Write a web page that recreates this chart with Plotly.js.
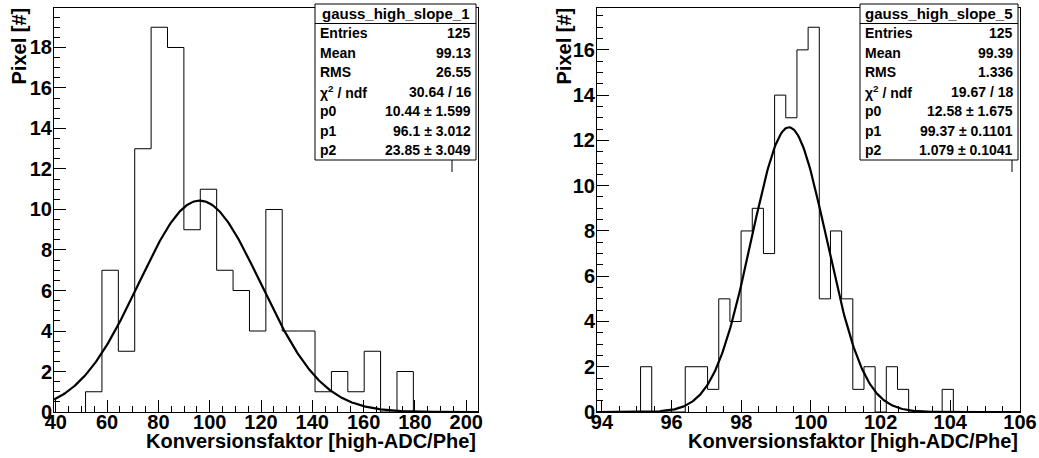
<!DOCTYPE html>
<html><head><meta charset="utf-8">
<script src="https://cdn.plot.ly/plotly-3.0.1.min.js"></script>
<style>html,body{margin:0;padding:0;background:#fff}#chart{width:1039px;height:458px}</style>
</head><body><div id="chart"></div>
<script>
// ---- Left histogram: gauss_high_slope_1 ----
const title1 = "gauss_high_slope_1";
const binStart1 = 51.6;
const binWidth1 = 6.39;
const counts1 = [1, 7, 3, 13, 19, 18, 9, 11, 7, 6, 4, 10, 4, 4, 1, 2, 1, 3, 0, 2];
const fitParams1 = [10.44, 96.1, 23.85];           // p0 (const), p1 (mean), p2 (sigma)
const statLabels1 = ["Entries", "Mean", "RMS", "χ<sup>2</sup> / ndf", "p0", "p1", "p2"];
const statValues1 = ["125", "99.13", "26.55", "30.64 / 16", "10.44 ± 1.599", "96.1 ± 3.012", "23.85 ± 3.049"];

// ---- Right histogram: gauss_high_slope_5 ----
const title2 = "gauss_high_slope_5";
const binStart2 = 95.11;
const binWidth2 = 0.3206;
const counts2 = [2, 0, 0, 0, 2, 2, 1, 5, 4, 8, 9, 7, 14, 13, 16, 17, 5, 8, 5, 1, 2, 0, 2, 1, 0, 0, 0, 1];
const fitParams2 = [12.58, 99.37, 1.079];
const statLabels2 = ["Entries", "Mean", "RMS", "χ<sup>2</sup> / ndf", "p0", "p1", "p2"];
const statValues2 = ["125", "99.39", "1.336", "19.67 / 18", "12.58 ± 1.675", "99.37 ± 0.1101", "1.079 ± 0.1041"];

const xTitle = "Konversionsfaktor [high-ADC/Phe]";
const yTitle = "Pixel [#]";

// ---------------------------------------------
const W = 1039, H = 458;
const px = v => v / W;
const py = v => 1 - v / H;

function stepXY(start, w, counts) {
  const xs = [start], ys = [0];
  counts.forEach((c, i) => {
    const x0 = start + i * w, x1 = x0 + w;
    xs.push(x0, x1); ys.push(c, c);
  });
  xs.push(start + counts.length * w); ys.push(0);
  return {xs, ys};
}
function gaussXY(p, lo, hi) {
  const xs = [], ys = [];
  const n = 400;
  for (let i = 0; i <= n; i++) {
    const x = lo + (hi - lo) * i / n;
    xs.push(x);
    ys.push(p[0] * Math.exp(-0.5 * Math.pow((x - p[1]) / p[2], 2)));
  }
  return {xs, ys};
}

const xr1 = [39.3, 204.6], yr1 = [0, 19.95];
const xr2 = [93.86, 106.0], yr2 = [0, 17.85];

const h1 = stepXY(binStart1, binWidth1, counts1);
const h2 = stepXY(binStart2, binWidth2, counts2);
const g1 = gaussXY(fitParams1, xr1[0], xr1[1]);
const g2 = gaussXY(fitParams2, xr2[0], xr2[1]);

const traces = [
  {x: h1.xs, y: h1.ys, xaxis: 'x', yaxis: 'y', mode: 'lines', line: {color: '#000', width: 1}, hoverinfo: 'skip'},
  {x: g1.xs, y: g1.ys, xaxis: 'x', yaxis: 'y', mode: 'lines', line: {color: '#000', width: 2.2}, hoverinfo: 'skip'},
  {x: h2.xs, y: h2.ys, xaxis: 'x2', yaxis: 'y2', mode: 'lines', line: {color: '#000', width: 1}, hoverinfo: 'skip'},
  {x: g2.xs, y: g2.ys, xaxis: 'x2', yaxis: 'y2', mode: 'lines', line: {color: '#000', width: 2.2}, hoverinfo: 'skip'}
];

const FONT = 'Liberation Sans, Arial, Helvetica, sans-serif';
const tickFont = {family: FONT, size: 20, color: '#000', weight: 'bold'};

function axis(range, dtick, minorDtick, domain, anchor, standoff) {
  return {
    range: range, domain: domain, anchor: anchor,
    showline: true, linecolor: '#000', linewidth: 1, mirror: true,
    ticks: 'inside', ticklen: 12, tickwidth: 1, tickcolor: '#000',
    tick0: 0, dtick: dtick, ticklabelstandoff: standoff,
    minor: {dtick: minorDtick, ticks: 'inside', ticklen: 6, tickwidth: 1, tickcolor: '#000'},
    showgrid: false, zeroline: false, tickfont: tickFont, fixedrange: true
  };
}

const yDom = [py(412), py(8)];
const layout = {
  width: W, height: H,
  margin: {l: 0, r: 0, t: 0, b: 0},
  paper_bgcolor: '#fff', plot_bgcolor: '#fff',
  showlegend: false,
  xaxis: axis(xr1, 20, 5, [px(54), px(478)], 'y', -8),
  yaxis: axis(yr1, 2, 0.5, yDom, 'x', -3),
  xaxis2: axis(xr2, 2, 0.5, [px(597), px(1020)], 'y2', -8),
  yaxis2: axis(yr2, 2, 0.5, yDom, 'x2', -3),
  shapes: [],
  annotations: []
};

function addTitles(xRight, yTitleX) {
  layout.annotations.push({
    xref: 'paper', yref: 'paper', x: px(xRight), y: py(441), xanchor: 'right', yanchor: 'middle',
    text: '<b>' + xTitle + '</b>', showarrow: false,
    font: {family: FONT, size: 20, color: '#000'}
  });
  layout.annotations.push({
    xref: 'paper', yref: 'paper', x: px(yTitleX), y: py(6), xanchor: 'center', yanchor: 'top',
    text: '<b>' + yTitle + '</b>', textangle: -90, showarrow: false,
    font: {family: FONT, size: 20, color: '#000'}
  });
}
addTitles(478, 18);
addTitles(1020, 563);

function addStats(x0, x1, title, labels, values, tailX) {
  const top = 4, bottom = 160;
  const rowH = (bottom - top) / (labels.length + 1);
  layout.shapes.push({type: 'rect', xref: 'paper', yref: 'paper', x0: px(x0), x1: px(x1), y0: py(bottom), y1: py(top),
    line: {color: '#000', width: 1}, fillcolor: '#fff', layer: 'above'});
  layout.shapes.push({type: 'line', xref: 'paper', yref: 'paper', x0: px(x0), x1: px(x1), y0: py(top + rowH), y1: py(top + rowH),
    line: {color: '#000', width: 1}, layer: 'above'});
  layout.shapes.push({type: 'line', xref: 'paper', yref: 'paper', x0: px(tailX), x1: px(tailX), y0: py(bottom), y1: py(bottom + 12),
    line: {color: '#000', width: 1}, layer: 'above'});
  const sf = {family: FONT, size: 14, color: '#000'};
  layout.annotations.push({xref: 'paper', yref: 'paper', x: px((x0 + x1) / 2), y: py(top + rowH / 2),
    xanchor: 'center', yanchor: 'middle', text: '<b>' + title + '</b>', showarrow: false, font: {family: FONT, size: 15, color: '#000'}});
  labels.forEach((lab, i) => {
    const yc = top + rowH * (i + 1.5);
    layout.annotations.push({xref: 'paper', yref: 'paper', x: px(x0 + 3), y: py(yc), xanchor: 'left', yanchor: 'middle',
      text: '<b>' + lab + '</b>', showarrow: false, font: sf});
    layout.annotations.push({xref: 'paper', yref: 'paper', x: px(x1 - 3), y: py(yc), xanchor: 'right', yanchor: 'middle',
      text: '<b>' + values[i] + '</b>', showarrow: false, font: sf});
  });
}
addStats(315, 476, title1, statLabels1, statValues1, 452);
addStats(860, 1018, title2, statLabels2, statValues2, 1012);

Plotly.newPlot('chart', traces, layout, {staticPlot: true, displayModeBar: false});
</script>
</body></html>
